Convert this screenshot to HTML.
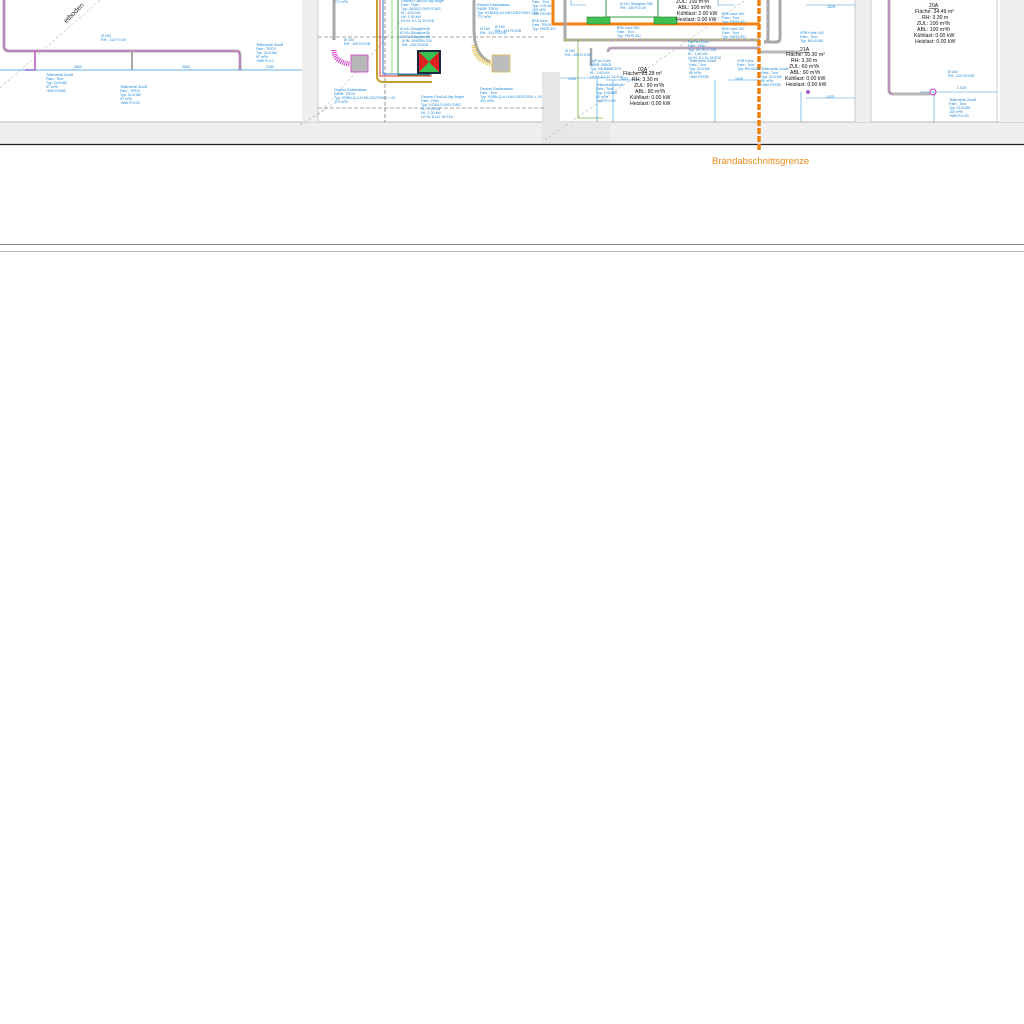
<!DOCTYPE html>
<html><head><meta charset="utf-8"><style>
html,body{margin:0;padding:0;background:#fff;width:1024px;height:1024px;overflow:hidden}
svg{display:block}
text{font-family:"Liberation Sans",sans-serif}
.s{fill:#1e88d8;font-size:3.6px}
.k{fill:#111;font-size:5.2px}
</style></head><body>
<svg width="1024" height="1024" viewBox="0 0 1024 1024" xmlns="http://www.w3.org/2000/svg">
<rect x="0" y="122" width="1024" height="22" fill="#efefef"/>
<line x1="0" y1="122" x2="1024" y2="122" stroke="#a8a8a8" stroke-width="0.8"/>
<rect x="302" y="0" width="16" height="122" fill="#efefef"/>
<rect x="542" y="72" width="18" height="72" fill="#e6e6e6"/>
<rect x="560" y="122" width="50" height="22" fill="#e8e8e8"/>
<rect x="855" y="0" width="16" height="122" fill="#efefef"/>
<rect x="1000" y="0" width="24" height="122" fill="#efefef"/>
<line x1="318" y1="0" x2="318" y2="122" stroke="#b0b0b0" stroke-width="0.6"/>
<line x1="855" y1="0" x2="855" y2="122" stroke="#b0b0b0" stroke-width="0.6"/>
<line x1="871" y1="0" x2="871" y2="122" stroke="#b0b0b0" stroke-width="0.6"/>
<line x1="997" y1="0" x2="997" y2="122" stroke="#b0b0b0" stroke-width="0.6"/>
<line x1="0" y1="144.5" x2="1024" y2="144.5" stroke="#222" stroke-width="1.2"/>
<line x1="0" y1="244.5" x2="1024" y2="244.5" stroke="#888" stroke-width="1"/>
<line x1="0" y1="251.5" x2="1024" y2="251.5" stroke="#bbb" stroke-width="1"/>

<g stroke="#555" stroke-width="0.6" stroke-dasharray="4,2" fill="none">
<line x1="318" y1="37" x2="545" y2="37"/>
<line x1="318" y1="108" x2="545" y2="108"/>
<line x1="385" y1="0" x2="385" y2="122"/>
</g>
<g stroke="#999" stroke-width="0.5" stroke-dasharray="3,2" fill="none">
<line x1="0" y1="88" x2="100" y2="0"/>
<line x1="300" y1="125" x2="340" y2="100"/>
<line x1="318" y1="115" x2="420" y2="0"/>
<line x1="545" y1="140" x2="760" y2="-10"/>
</g>

<g fill="none">
<path d="M4 0 V46 Q4 51 9 51 H237 Q240 51 240 56 V70" stroke="#b4b4b4" stroke-width="3"/>
<path d="M4 0 V46 Q4 51 9 51 H237 Q240 51 240 56 V70" stroke="#d040c8" stroke-width="0.8"/>
<path d="M35 51 V70 H25" stroke="#c050c0" stroke-width="1.5"/>
<path d="M132 51 V70" stroke="#a8a8a8" stroke-width="2"/>
<line x1="0" y1="70" x2="302" y2="70" stroke="#3a98dc" stroke-width="0.7"/>
</g>
<text x="62" y="17" transform="rotate(-45 72 15)" style="font-size:7px;fill:#333">etboden</text>
<text class="s" x="101" y="37">Ø 160</text><text class="s" x="101" y="41">RH: -113 F.0.00</text>
<text class="s" x="74" y="68">3600</text><text class="s" x="182" y="68">3600</text><text class="s" x="266" y="68">2150</text>
<text class="s" x="46" y="76">Tellerventil Zuluft</text><text class="s" x="46" y="80">Fabr.: Trox</text><text class="s" x="46" y="84">Typ: ZLV/160</text><text class="s" x="46" y="88">97 m³/h</text><text class="s" x="46" y="92">+660 ROOB</text>
<text class="s" x="120" y="88">Tellerventil Zuluft</text><text class="s" x="120" y="92">Fabr.: TROX</text><text class="s" x="120" y="96">Typ: ZLV/160</text><text class="s" x="120" y="100">97 m³/h</text><text class="s" x="120" y="104">+660 R.0.00</text>
<text class="s" x="256" y="46">Tellerventil Zuluft</text><text class="s" x="256" y="50">Fabr.: TROX</text><text class="s" x="256" y="54">Typ: ZLV/160</text><text class="s" x="256" y="58">97 m³/h</text><text class="s" x="256" y="62">+660 R.0.0</text>

<g fill="none">
<path d="M334 0 V40" stroke="#a8a8a8" stroke-width="3"/>
<path d="M334 50 Q334 62 350 64" stroke="#d040c8" stroke-width="5" stroke-dasharray="1,1"/>
<path d="M377 0 V76 Q377 82 383 82 H432" stroke="#c8a030" stroke-width="2"/>
<path d="M380 0 V76 H432" stroke="#e0302a" stroke-width="1"/>
<path d="M383 0 V74 H432" stroke="#3a6ad0" stroke-width="1"/>
<path d="M392 0 V76" stroke="#90d080" stroke-width="1"/>
<path d="M398 0 V75 H430" stroke="#2a9a3a" stroke-width="1"/>
<path d="M474 0 V30 Q474 55 490 62" stroke="#a8a8a8" stroke-width="3"/>
<path d="M474 45 Q474 60 492 64" stroke="#e0c050" stroke-width="5" stroke-dasharray="1,1"/>
</g>
<rect x="351" y="55" width="17" height="17" fill="#b8b8b8" stroke="#d040c8" stroke-width="0.8"/>
<rect x="417" y="50" width="24" height="24" fill="#1a2a40"/>
<rect x="419" y="52" width="20" height="20" fill="#3ac050"/>
<path d="M419 52 L429 62 L419 72 Z M439 52 L429 62 L439 72 Z" fill="#e02020"/>
<rect x="492" y="55" width="18" height="17" fill="#bdbdbd" stroke="#e0c050" stroke-width="0.8"/>
<text class="s" x="334" y="3">771 m³/h</text>
<text class="s" x="401" y="2">Decken-FanCoil-4tg Single</text><text class="s" x="401" y="6">Fabr.: Fillin</text><text class="s" x="401" y="10">Typ: GC/B13 0VSYY1B3</text><text class="s" x="401" y="14">KL: 2.90 kW</text><text class="s" x="401" y="18">HL: 1.30 kW</text><text class="s" x="401" y="22">LV+N: 6.1 11 16 E18</text>
<text class="s" x="400" y="30">Ø V/U Shlagline38</text><text class="s" x="400" y="34">Ø V/U Shlagline38</text><text class="s" x="400" y="38">Ø V/U Shlagline38</text><text class="s" x="402" y="42">Ø RL 1/NGEN 025</text><text class="s" x="402" y="46">RH: -190 ROOB</text>
<text class="s" x="344" y="41">Ø 200</text><text class="s" x="344" y="45">RH: -190 ROOB</text>
<text class="s" x="334" y="91">Decken Drallauslass</text><text class="s" x="334" y="95">FABR: TROX</text><text class="s" x="334" y="99">Typ: VSBN-Q-3-H-8H-0/D270921 × 24</text><text class="s" x="334" y="103">771 m³/h</text>
<text class="s" x="421" y="98">Decken-FanCoil-4tg Single</text><text class="s" x="421" y="102">Fabr.: Fillin</text><text class="s" x="421" y="106">Typ: GC/B13 0VSYY1B3</text><text class="s" x="421" y="110">KL: 2.90 kW</text><text class="s" x="421" y="114">HL: 1.30 kW</text><text class="s" x="421" y="118">LV+N: 6.111 16 E18</text>
<text class="s" x="477" y="6">Decken Drallauslass</text><text class="s" x="477" y="10">FABR: TROX</text><text class="s" x="477" y="14">Typ: VSBN/Q-A-H-8H-0/D270921 C24</text><text class="s" x="477" y="18">771 m³/h</text>
<text class="s" x="480" y="30">Ø 160</text><text class="s" x="480" y="34">RH: -191 ROOB</text><text class="s" x="495" y="28">Ø 160</text><text class="s" x="495" y="32">RH: -191 ROOB</text>
<text class="s" x="480" y="90">Decken Drallauslass</text><text class="s" x="480" y="94">Fabr.: Trox</text><text class="s" x="480" y="98">Typ: VSBN-Q-A-H-8H-0/D270921 × 24</text><text class="s" x="480" y="102">331 m³/h</text>
<text class="s" x="532" y="3">Fabr.: Trox</text><text class="s" x="532" y="7">Typ: LVS/160</text><text class="s" x="532" y="11">100 m³/h</text><text class="s" x="532" y="15">-660 ROOB</text><text class="s" x="532" y="22">BSK rund</text><text class="s" x="532" y="26">Fabr. TROX</text><text class="s" x="532" y="30">Typ: FKRS-EU</text>

<g fill="none">
<path d="M553 0 V24 H760" stroke="#f08010" stroke-width="3"/>
<path d="M565 0 V40 H760" stroke="#a8a8a8" stroke-width="3"/>
<path d="M565 40 H760" stroke="#e8c050" stroke-width="1" stroke-dasharray="3,4"/>
<path d="M606 0 V17 H658 V0" stroke="#30a040" stroke-width="1"/>
<rect x="587" y="17" width="23" height="7" fill="#40c050" stroke="#208030" stroke-width="0.6"/>
<rect x="654" y="17" width="23" height="7" fill="#40c050" stroke="#208030" stroke-width="0.6"/>
<path d="M608 52 Q608 48 612 48 H760" stroke="#b8b8b8" stroke-width="3"/>
<path d="M608 52 Q608 48 612 48 H760" stroke="#c080c8" stroke-width="0.8"/>
<path d="M768 0 V38 Q768 42 764 42" stroke="#a8a8a8" stroke-width="3"/>
<path d="M760 52 H800" stroke="#b8b8b8" stroke-width="3"/>
<path d="M578 40 V118 H603" stroke="#7ab040" stroke-width="0.8"/>
<path d="M591 48 V66" stroke="#a8a8a8" stroke-width="2.5"/>
</g>
<g stroke="#3a98dc" stroke-width="0.6" fill="none">
<path d="M571 0 V5 H586"/><path d="M718 0 V5 H735"/>
<path d="M560 78 H608"/><path d="M597 78 V122"/>
<path d="M606 80 H640"/><path d="M613 80 V122"/>
<path d="M728 80 H760"/><path d="M715 80 V122"/>
<path d="M806 5 H855"/><path d="M806 98 H855"/><path d="M801 92 V122"/>
<path d="M920 92 H997"/><path d="M934 92 V122"/>
</g>
<line x1="759" y1="0" x2="759" y2="150" stroke="#f08010" stroke-width="3.5" stroke-dasharray="6,2"/>
<text class="k" x="676" y="3">ZUL: 100 m³/h</text><text class="k" x="678" y="9">ABL: 100 m³/h</text><text class="k" x="677" y="15">Kühllast: 2.00 kW</text><text class="k" x="676" y="21">Heizlast: 0.00 kW</text>
<text class="k" x="638" y="71" style="text-decoration:underline">02A</text>
<text class="k" x="623" y="75">Fläche: 23.28 m²</text><text class="k" x="632" y="81">RH: 3.30 m</text><text class="k" x="634" y="87">ZUL: 90 m³/h</text><text class="k" x="635" y="93">ABL: 80 m³/h</text><text class="k" x="630" y="99">Kühllast: 0.00 kW</text><text class="k" x="630" y="105">Heizlast: 0.00 kW</text>
<text class="s" x="620" y="5">Ø V/U Shlagline 038</text><text class="s" x="620" y="9">RH: -160 R.0.00</text>
<text class="s" x="617" y="29">BSK rund 160</text><text class="s" x="617" y="33">Fabr.: Trox</text><text class="s" x="617" y="37">Typ: FKRS-EU</text>
<text class="s" x="688" y="43">Hy/Fan-Coils</text><text class="s" x="688" y="47">Fabr.: Fillin</text><text class="s" x="688" y="51">Typ: GC B13 0VS</text><text class="s" x="688" y="55">KL: 1.60 kW</text><text class="s" x="688" y="59">LV+N: 6.1 11 16 E18</text>
<text class="s" x="722" y="15">BSK rund 160</text><text class="s" x="722" y="19">Fabr.: Trox</text><text class="s" x="722" y="23">Typ: FKRS-EU</text>
<text class="s" x="722" y="30">BSK rund 160</text><text class="s" x="722" y="34">Fabr.: Trox</text><text class="s" x="722" y="38">Typ: FKRS-EU</text>
<text class="s" x="565" y="52">Ø 160</text><text class="s" x="565" y="56">RH: -200 R.0.00</text>
<text class="s" x="590" y="62">Hy/Fan-Coils</text><text class="s" x="590" y="66">FABR: BSKB</text><text class="s" x="590" y="70">Typ: GB B8BB 0VS</text><text class="s" x="590" y="74">KL: 1.60 kW</text><text class="s" x="590" y="78">LV+N: 6.1 11 16 E18</text>
<text class="s" x="596" y="86">Tellerventil Abluft</text><text class="s" x="596" y="90">Fabr.: Trox</text><text class="s" x="596" y="94">Typ: LVS/160</text><text class="s" x="596" y="98">80 m³/h</text><text class="s" x="596" y="102">+660 R.0.00</text>
<text class="s" x="689" y="62">Tellerventil Zuluft</text><text class="s" x="689" y="66">Fabr.: Trox</text><text class="s" x="689" y="70">Typ: ZLV/160</text><text class="s" x="689" y="74">80 m³/h</text><text class="s" x="689" y="78">+660 ROOB</text>
<text class="s" x="737" y="62">VSR Kreis</text><text class="s" x="737" y="66">Fabr.: Trox</text><text class="s" x="737" y="70">Typ: RN-0/200</text>
<text class="s" x="761" y="70">Tellerventil Zuluft</text><text class="s" x="761" y="74">Fabr.: Trox</text><text class="s" x="761" y="78">Typ: ZLV/160</text><text class="s" x="761" y="82">60 m³/h</text><text class="s" x="761" y="86">+660 ROOB</text>
<text class="s" x="568" y="80">1000</text><text class="s" x="620" y="80">1000</text><text class="s" x="735" y="80">1000</text>

<g fill="none">
<path d="M780 0 V38 Q780 42 776 42 H764" stroke="#a8a8a8" stroke-width="3"/>
<path d="M889 0 V90 Q889 94 893 94 H930" stroke="#b8b8b8" stroke-width="3"/>
<path d="M889 0 V90 Q889 94 893 94" stroke="#c060c8" stroke-width="0.8"/>
</g>
<circle cx="808" cy="92" r="2" fill="#a060d0"/><circle cx="933" cy="92" r="3" fill="none" stroke="#c040c0" stroke-width="1"/>
<text class="s" x="827" y="8">1025</text><text class="s" x="826" y="98">1025</text><text class="s" x="957" y="89">2.025</text>
<text class="k" x="800" y="51" style="text-decoration:underline">21A</text>
<text class="k" x="786" y="56">Fläche: 10.30 m²</text><text class="k" x="791" y="62">RH: 3.30 m</text><text class="k" x="789" y="68">ZUL: 60 m³/h</text><text class="k" x="790" y="74">ABL: 60 m³/h</text><text class="k" x="785" y="80">Kühllast: 0.00 kW</text><text class="k" x="786" y="86">Heizlast: 0.00 kW</text>
<text class="k" x="929" y="7" style="text-decoration:underline">20A</text>
<text class="k" x="915" y="13">Fläche: 34.49 m²</text><text class="k" x="922" y="19">RH: 3.30 m</text><text class="k" x="917" y="25">ZUL: 100 m³/h</text><text class="k" x="917" y="31">ABL: 100 m³/h</text><text class="k" x="914" y="37">Kühllast: 0.00 kW</text><text class="k" x="915" y="43">Heizlast: 0.00 kW</text>
<text class="s" x="800" y="34">VSR Kreis 160</text><text class="s" x="800" y="38">Fabr.: Trox</text><text class="s" x="800" y="42">Typ: RN-0/160</text>
<text class="s" x="948" y="73">Ø 160</text><text class="s" x="948" y="77">RH: -200 ROOB</text>
<text class="s" x="949" y="101">Tellerventil Zuluft</text><text class="s" x="949" y="105">Fabr.: Trox</text><text class="s" x="949" y="109">Typ: ZLV/160</text><text class="s" x="949" y="113">100 m³/h</text><text class="s" x="949" y="117">+660 R.0.00</text>

<text x="712" y="164" style="font-size:9.5px;fill:#e8891a">Brandabschnittsgrenze</text>
</svg>
</body></html>
